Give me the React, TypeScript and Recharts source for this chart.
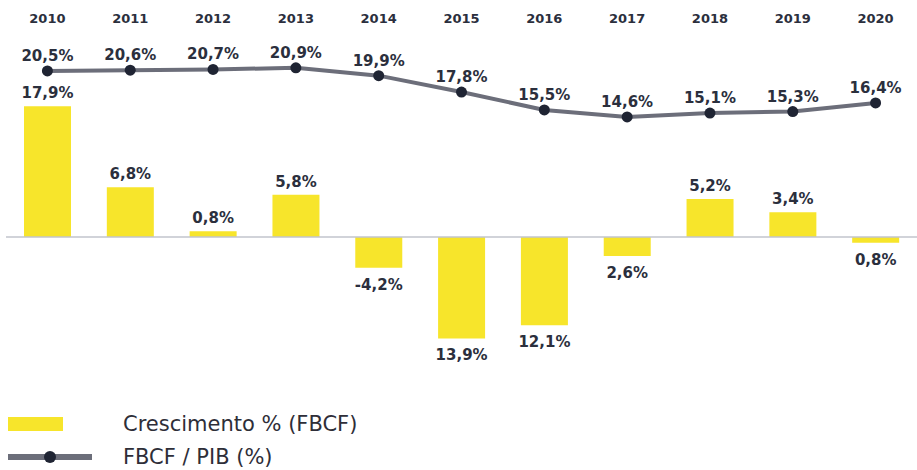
import { ComposedChart, Bar, Line, XAxis, YAxis, ReferenceLine, LabelList } from "recharts";

const years = ["2010", "2011", "2012", "2013", "2014", "2015", "2016", "2017", "2018", "2019", "2020"];
const growth = [17.9, 6.8, 0.8, 5.8, -4.2, -13.9, -12.1, -2.6, 5.2, 3.4, -0.8];
const growthLabels = ["17,9%", "6,8%", "0,8%", "5,8%", "-4,2%", "13,9%", "12,1%", "2,6%", "5,2%", "3,4%", "0,8%"];
const share = [20.5, 20.6, 20.7, 20.9, 19.9, 17.8, 15.5, 14.6, 15.1, 15.3, 16.4];
const shareLabels = ["20,5%", "20,6%", "20,7%", "20,9%", "19,9%", "17,8%", "15,5%", "14,6%", "15,1%", "15,3%", "16,4%"];

const YELLOW = "#F7E52B";
const GREY = "#6C6E7A";
const DARK = "#1F2433";
const TEXT = "#2B2F3D";
const FONT = "'DejaVu Sans', sans-serif";

const data = years.map((y, i) => ({
    year: y,
    growth: growth[i],
    growthLabel: growthLabels[i],
    share: share[i],
    shareLabel: shareLabels[i],
}));

function BarValue(props: any) {
    const { x, y, width, height, index } = props;
    const top = Math.min(y, y + height);
    const bottom = Math.max(y, y + height);
    const neg = growth[index] < 0;
    return (
        <text
            x={x + width / 2}
            y={neg ? bottom + 22 : top - 8}
            textAnchor="middle"
            fill={TEXT}
            fontFamily={FONT}
            fontWeight="bold"
            fontSize={15}
        >
            {growthLabels[index]}
        </text>
    );
}

export default function App() {
    return (
        <div style={{ position: "absolute", left: 0, top: 0, width: 917, height: 470, background: "#fff" }}>
            <ComposedChart
                width={917}
                height={470}
                data={data}
                margin={{ top: 0, right: 0, left: 6, bottom: 90 }}
                barCategoryGap={0}
            >
                <XAxis
                    dataKey="year"
                    orientation="top"
                    height={40}
                    axisLine={false}
                    tickLine={false}
                    tickSize={0}
                    tickMargin={17}
                    interval={0}
                    tick={{ fill: TEXT, fontFamily: FONT, fontWeight: "bold", fontSize: 13 }}
                />
                <YAxis yAxisId="bar" hide domain={[-19.59, 26.99]} />
                <YAxis yAxisId="line" hide domain={[-19.12, 24.47]} />
                <Bar yAxisId="bar" dataKey="growth" fill={YELLOW} barSize={47} isAnimationActive={false}>
                    <LabelList dataKey="growthLabel" content={BarValue} />
                </Bar>
                <ReferenceLine yAxisId="bar" y={0} stroke="#C2C4CC" strokeWidth={1.5} />
                <Line
                    yAxisId="line"
                    type="linear"
                    dataKey="share"
                    stroke={GREY}
                    strokeWidth={4}
                    dot={{ r: 5.5, fill: DARK, stroke: "none" }}
                    activeDot={false}
                    isAnimationActive={false}
                >
                    <LabelList
                        dataKey="shareLabel"
                        position="top"
                        offset={10}
                        fill={TEXT}
                        fontFamily={FONT}
                        fontWeight="bold"
                        fontSize={15}
                    />
                </Line>
            </ComposedChart>
            <div style={{ position: "absolute", left: 8, top: 408, fontFamily: FONT, fontSize: 21, color: "#2E2E38" }}>
                <div style={{ display: "flex", alignItems: "center", height: 32 }}>
                    <div style={{ width: 55, height: 14, background: YELLOW }} />
                    <span style={{ marginLeft: 60 }}>Crescimento % (FBCF)</span>
                </div>
                <div style={{ display: "flex", alignItems: "center", height: 34 }}>
                    <div style={{ position: "relative", width: 84, height: 6, background: GREY }}>
                        <div style={{ position: "absolute", left: 36, top: -3, width: 12, height: 12, borderRadius: 6, background: DARK }} />
                    </div>
                    <span style={{ marginLeft: 31 }}>FBCF / PIB (%)</span>
                </div>
            </div>
        </div>
    );
}
